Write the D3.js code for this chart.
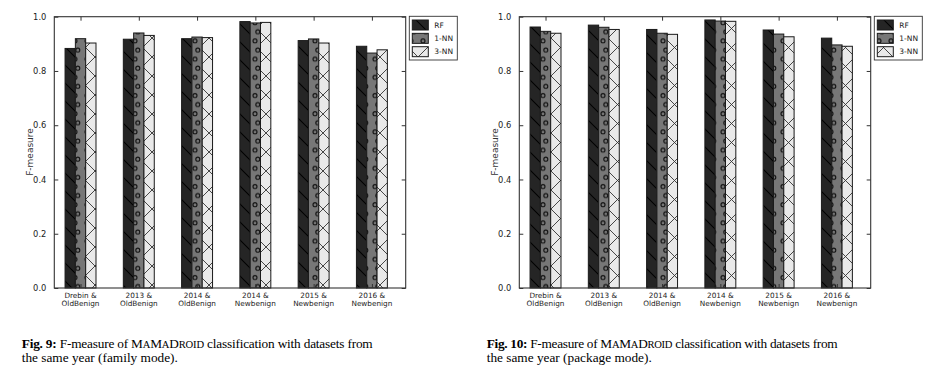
<!DOCTYPE html>
<html>
<head>
<meta charset="utf-8">
<script src="https://cdn.jsdelivr.net/npm/d3@7"></script>
<style>
  html, body { margin: 0; padding: 0; background: #fff; }
  svg { display: block; }
</style>
</head>
<body>
<svg id="chart" width="934" height="378"></svg>
<script>
// ---------- data ----------
const categories = [["Drebin &", "OldBenign"], ["2013 &", "OldBenign"], ["2014 &", "OldBenign"],
                    ["2014 &", "Newbenign"], ["2015 &", "Newbenign"], ["2016 &", "Newbenign"]];
const seriesNames = ["RF", "1-NN", "3-NN"];
const yTicks = [0.0, 0.2, 0.4, 0.6, 0.8, 1.0];

// Fig. 9 (family mode)
const familyRF  = [0.883, 0.917, 0.919, 0.982, 0.912, 0.891];
const family1NN = [0.919, 0.940, 0.925, 0.977, 0.918, 0.866];
const family3NN = [0.903, 0.931, 0.923, 0.979, 0.903, 0.878];

// Fig. 10 (package mode)
const packageRF  = [0.962, 0.969, 0.953, 0.988, 0.951, 0.921];
const package1NN = [0.946, 0.961, 0.939, 0.984, 0.936, 0.896];
const package3NN = [0.939, 0.953, 0.935, 0.983, 0.926, 0.891];

const fig9Caption  = { label: "Fig. 9:",  line2: "the same year (family mode)." };
const fig10Caption = { label: "Fig. 10:", line2: "the same year (package mode)." };

// ---------- drawing ----------
const svg = d3.select("#chart");
const defs = svg.append("defs");

// hatch patterns
const pRF = defs.append("pattern").attr("id", "hRF").attr("patternUnits", "userSpaceOnUse")
  .attr("width", 18).attr("height", 18);
pRF.append("rect").attr("width", 18).attr("height", 18).attr("fill", "#252525");
pRF.append("path").attr("d", "M0,0 L18,18 M-9,9 L9,27 M9,-9 L27,9")
  .attr("stroke", "#000").attr("stroke-width", 1.1).attr("fill", "none");

const p1 = defs.append("pattern").attr("id", "h1NN").attr("patternUnits", "userSpaceOnUse")
  .attr("width", 12).attr("height", 18.2);
p1.append("rect").attr("width", 12).attr("height", 18.2).attr("fill", "#777");
[[3.0, 4.5], [5.8, 13.6]].forEach(([cx, cy]) => {
  p1.append("circle").attr("cx", cx).attr("cy", cy).attr("r", 2)
    .attr("fill", "none").attr("stroke", "#111").attr("stroke-width", 1.1);
});

const p3 = defs.append("pattern").attr("id", "h3NN").attr("patternUnits", "userSpaceOnUse")
  .attr("width", 19).attr("height", 19);
p3.append("rect").attr("width", 19).attr("height", 19).attr("fill", "#e9e9e9");
p3.append("path").attr("d", "M0,0 L19,19 M0,19 L19,0")
  .attr("stroke", "#333").attr("stroke-width", 0.9).attr("fill", "none");

const fills = ["url(#hRF)", "url(#h1NN)", "url(#h3NN)"];

function drawPanel(offsetX, rf, nn1, nn3, caption) {
  const left = 54.3 + offsetX, right = 405.7 + offsetX, top = 16.7, bottom = 288;
  const g = svg.append("g");
  const series = [rf, nn1, nn3];

  const x = d3.scaleLinear().domain([-0.45, 5.58]).range([left, right]);
  const y = d3.scaleLinear().domain([0, 1]).range([bottom, top]);
  const w = 0.177;

  // bars
  series.forEach((vals, s) => {
    g.selectAll(null).data(vals).enter().append("rect")
      .attr("x", (d, i) => x(i + (s - 1.5) * w))
      .attr("width", x(w) - x(0))
      .attr("y", d => y(d))
      .attr("height", d => y(0) - y(d))
      .attr("fill", fills[s])
      .attr("stroke", "#1a1a1a")
      .attr("stroke-width", 1);
  });

  // frame
  g.append("rect").attr("x", left).attr("y", top).attr("width", right - left).attr("height", bottom - top)
    .attr("fill", "none").attr("stroke", "#333").attr("stroke-width", 1.1);

  // axes (inward ticks)
  const yAxis = d3.axisLeft(y).tickValues(yTicks).tickFormat(d3.format(".1f")).tickSizeInner(-4).tickSizeOuter(0).tickPadding(8);
  const ya = g.append("g").attr("transform", `translate(${left},0)`).call(yAxis);
  ya.select(".domain").remove();
  ya.selectAll("line").attr("stroke", "#333");
  ya.selectAll("text").attr("font-family", "DejaVu Sans").attr("font-size", 8.3).attr("fill", "#222");

  const yAxisR = d3.axisRight(y).tickValues(yTicks).tickSizeInner(-4).tickSizeOuter(0).tickFormat("");
  const yr = g.append("g").attr("transform", `translate(${right},0)`).call(yAxisR);
  yr.select(".domain").remove();
  yr.selectAll("line").attr("stroke", "#333");

  const idx = d3.range(categories.length);
  const xAxis = d3.axisBottom(x).tickValues(idx).tickSizeInner(-4).tickSizeOuter(0).tickFormat("");
  const xa = g.append("g").attr("transform", `translate(0,${bottom})`).call(xAxis);
  xa.select(".domain").remove();
  xa.selectAll("line").attr("stroke", "#333");
  const xAxisT = d3.axisTop(x).tickValues(idx).tickSizeInner(-4).tickSizeOuter(0).tickFormat("");
  const xt = g.append("g").attr("transform", `translate(0,${top})`).call(xAxisT);
  xt.select(".domain").remove();
  xt.selectAll("line").attr("stroke", "#333");

  // x tick labels (two lines)
  const lab = g.selectAll(null).data(categories).enter().append("text")
    .attr("text-anchor", "middle").attr("font-family", "DejaVu Sans").attr("font-size", 7.3).attr("fill", "#222");
  lab.append("tspan").attr("x", (d, i) => x(i)).attr("y", 297.8).text(d => d[0]);
  lab.append("tspan").attr("x", (d, i) => x(i)).attr("y", 306.2).text(d => d[1]);

  // y label
  g.append("text").attr("transform", `translate(${29.5 + offsetX},152) rotate(-90)`)
    .attr("text-anchor", "middle").attr("dy", "0.35em").attr("font-family", "DejaVu Sans").attr("font-size", 9)
    .attr("fill", "#333").text("F-measure");

  // legend
  const lx = right + 3.6, ly = 16.3;
  const lg = g.append("g");
  lg.append("rect").attr("x", lx).attr("y", ly).attr("width", 48).attr("height", 43.7)
    .attr("fill", "#fff").attr("stroke", "#333").attr("stroke-width", 0.9);
  seriesNames.forEach((name, s) => {
    const yy = ly + 3.7 + s * 13.35;
    lg.append("rect").attr("x", lx + 3).attr("y", yy).attr("width", 16).attr("height", 10)
      .attr("fill", fills[s]).attr("stroke", "#1a1a1a").attr("stroke-width", 1);
    lg.append("text").attr("x", lx + 25).attr("y", yy + 5).attr("dy", "0.35em")
      .attr("font-family", "DejaVu Sans").attr("font-size", 7.5).attr("fill", "#222").text(name);
  });

  // caption
  const fs = 13.3, sc = 10.6;
  const cx = 21.7 + offsetX;
  const c1 = g.append("text").attr("x", cx).attr("y", 347.5).attr("font-family", "Liberation Serif")
    .attr("font-size", fs).attr("fill", "#000")
    .attr("textLength", 351).attr("lengthAdjust", "spacing");
  c1.append("tspan").attr("font-weight", "bold").text(caption.label + " ");
  c1.append("tspan").text("F-measure of M");
  c1.append("tspan").attr("font-size", sc).text("A");
  c1.append("tspan").text("M");
  c1.append("tspan").attr("font-size", sc).text("A");
  c1.append("tspan").text("D");
  c1.append("tspan").attr("font-size", sc).text("ROID");
  c1.append("tspan").text(" classification with datasets from");
  g.append("text").attr("x", cx).attr("y", 361.5).attr("font-family", "Liberation Serif")
    .attr("font-size", fs).attr("fill", "#000").text(caption.line2);
}

drawPanel(0, familyRF, family1NN, family3NN, fig9Caption);
drawPanel(465, packageRF, package1NN, package3NN, fig10Caption);
</script>
</body>
</html>
